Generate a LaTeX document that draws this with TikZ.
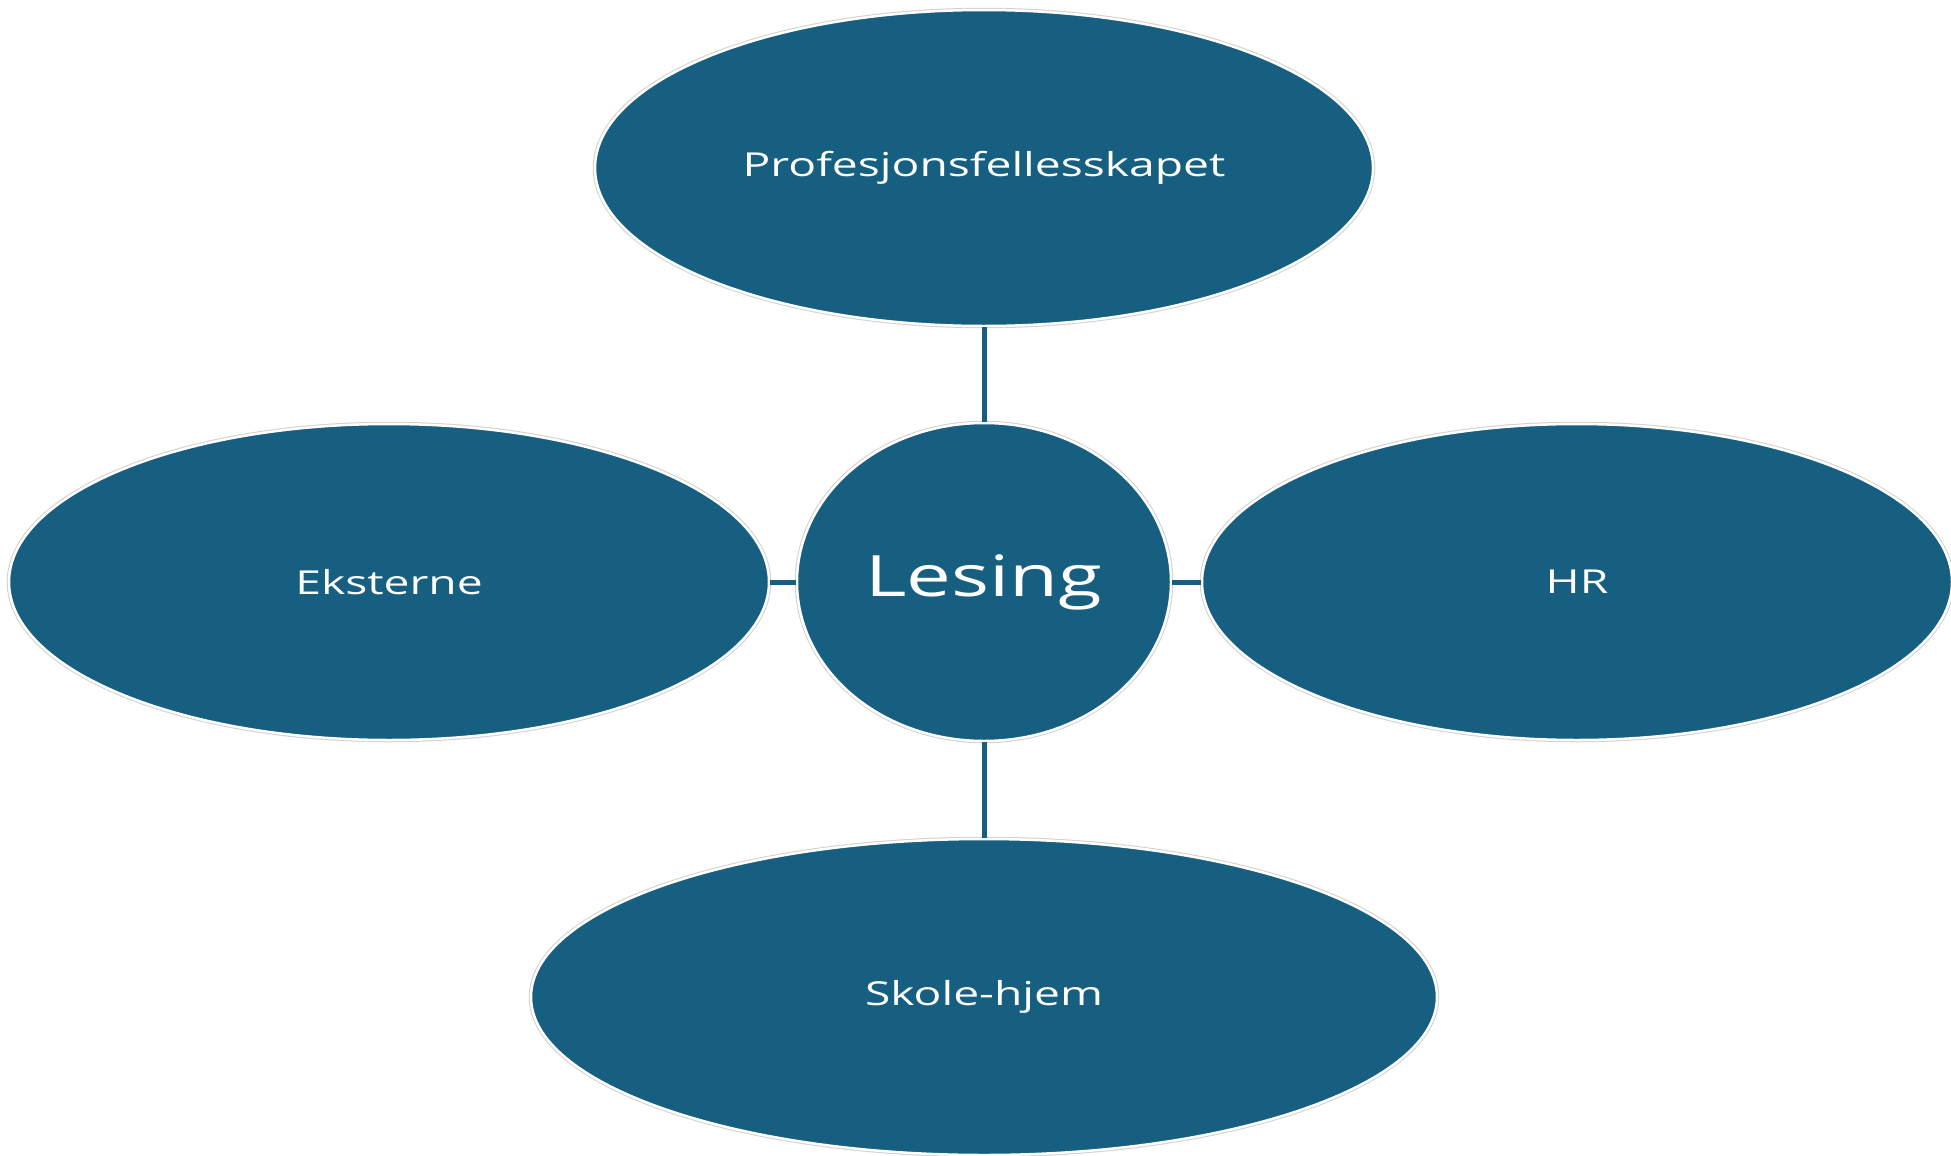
\documentclass[tikz,border=0pt]{standalone}
\usepackage{fontspec}
\setmainfont{Open Sans}[FakeStretch=1.4]
\usetikzlibrary{shapes.geometric}
\definecolor{blob}{HTML}{175F80}
\tikzset{
  x=1pt,y=-1pt,
  blobnode/.style={ellipse, fill=blob, draw=white, line width=2.5pt, inner sep=0pt,
    preaction={draw=black!18, line width=4.5pt},
    text=white, font=\fontsize{33}{38}\selectfont},
  link/.style={draw=blob, line width=5pt}
}
\begin{document}
\begin{tikzpicture}
\useasboundingbox (0,0) rectangle (1951,1156);
\node[blobnode, minimum width=778pt, minimum height=316pt] (top) at (984,168) {Profesjonsfellesskapet};
\node[blobnode, minimum width=760pt, minimum height=316pt] (left) at (389,582) {Eksterne};
\node[blobnode, minimum width=750pt, minimum height=316pt] (right) at (1577,582) {HR};
\node[blobnode, minimum width=906pt, minimum height=316pt] (bottom) at (984,997) {Skole-hjem};
\node[blobnode, minimum width=374pt, minimum height=318pt, font=\fontsize{57}{64}\selectfont] (center) at (984,582) {Lesing};
\draw[link] (top.south) -- (center.north);
\draw[link] (center.south) -- (bottom.north);
\draw[link] (left.east) -- (center.west);
\draw[link] (center.east) -- (right.west);
\end{tikzpicture}
\end{document}
